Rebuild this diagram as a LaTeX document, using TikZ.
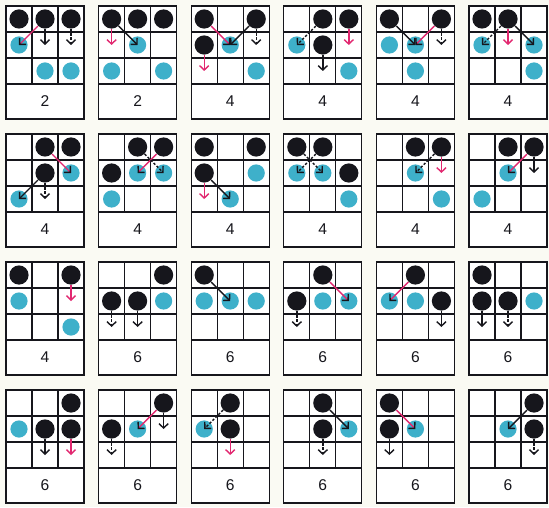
\documentclass[tikz,border=0pt]{standalone}
\usepackage{fontspec}
\setmainfont{Liberation Sans}
\usepackage{tikz}
\usetikzlibrary{arrows.meta}
\definecolor{ink}{RGB}{22,22,28}
\definecolor{ballcyan}{RGB}{62,176,202}
\definecolor{mag}{RGB}{226,40,112}
\definecolor{paper}{RGB}{250,250,243}
\tikzset{
  frame/.style={line width=0.6pt, draw=ink},
  kb/.style={circle, fill=ink, minimum size=9.6pt, inner sep=0pt},
  cb/.style={circle, fill=ballcyan, minimum size=8.6pt, inner sep=0pt},
  lab/.style={font=\fontsize{7.8}{9}\selectfont, text=ink},
  bka/.style={line width=0.7pt, draw=ink, -{Straight Barb[length=2.2pt,width=4.6pt]}},
  bkd/.style={bka, dash pattern=on 1.2pt off 0.9pt},
  mva/.style={line width=0.7pt, draw=mag, -{Straight Barb[length=2.2pt,width=4.6pt]}},
  mvd/.style={line width=0.7pt, draw=mag, -{Straight Barb[length=2.2pt,width=4.6pt,ink]}}
}
\begin{document}
\begin{tikzpicture}[x=0.5pt, y=-0.5pt]
\fill[paper] (0,0) rectangle (549,507);
\useasboundingbox (0,0) rectangle (549,507);
% panels: 3x3 board with the number below
\foreach \lab [count=\i] in {2,2,4,4,4,4, 4,4,4,4,4,4, 4,6,6,6,6,6, 6,6,6,6,6,6}{
  \pgfmathsetmacro\px{6+92.6*mod(\i-1,6)}
  \pgfmathsetmacro\py{6+128*int((\i-1)/6)}
  \begin{scope}[shift={(\px,\py)}]
    \fill[white] (0,0) rectangle (78,113);
    \draw[frame] (0,0) rectangle (78,113);
    \draw[frame] (0,26)--(78,26) (0,52)--(78,52) (0,78)--(78,78)
                 (26,0)--(26,78) (52,0)--(52,78);
    \node[lab] (p\i-lab) at (39,95.5) {\lab};
    \foreach \c in {1,2,3}{
      \foreach \r in {1,2,3}{
        \coordinate (p\i-\c\r) at (26*\c-13,26*\r-13);
      }
    }
  \end{scope}
}

% row 1
\node[kb] (p1-k11) at (p1-11) {};
\node[kb] (p1-k21) at (p1-21) {};
\node[kb] (p1-k31) at (p1-31) {};
\node[cb] (p1-c12) at (p1-12) {};
\node[cb] (p1-c23) at (p1-23) {};
\node[cb] (p1-c33) at (p1-33) {};
\draw[mvd] (p1-k21) -- (p1-c12.center);
\draw[bka] (p1-k21) -- (p1-22);
\draw[bkd] (p1-k31) -- (p1-32);

\node[kb] (p2-k11) at (p2-11) {};
\node[kb] (p2-k21) at (p2-21) {};
\node[kb] (p2-k31) at (p2-31) {};
\node[cb] (p2-c22) at (p2-22) {};
\node[cb] (p2-c13) at (p2-13) {};
\node[cb] (p2-c33) at (p2-33) {};
\draw[mva] (p2-k11) -- (p2-12);
\draw[bka] (p2-k11) -- (p2-c22.center);

\node[kb] (p3-k11) at (p3-11) {};
\node[kb] (p3-k31) at (p3-31) {};
\node[kb] (p3-k12) at (p3-12) {};
\node[cb] (p3-c22) at (p3-22) {};
\node[cb] (p3-c33) at (p3-33) {};
\draw[mvd] (p3-k11) -- (p3-c22.center);
\draw[bka] (p3-k31) -- (p3-c22.center);
\draw[bkd] (p3-k31) -- (p3-32);
\draw[mva] (p3-k12) -- (p3-13);

\node[kb] (p4-k21) at (p4-21) {};
\node[kb] (p4-k31) at (p4-31) {};
\node[kb] (p4-k22) at (p4-22) {};
\node[cb] (p4-c12) at (p4-12) {};
\node[cb] (p4-c33) at (p4-33) {};
\draw[bkd] (p4-k21) -- (p4-c12.center);
\draw[mva] (p4-k31) -- (p4-32);
\draw[bka] (p4-k22) -- (p4-23);

\node[kb] (p5-k11) at (p5-11) {};
\node[kb] (p5-k31) at (p5-31) {};
\node[cb] (p5-c12) at (p5-12) {};
\node[cb] (p5-c22) at (p5-22) {};
\node[cb] (p5-c23) at (p5-23) {};
\draw[bka] (p5-k11) -- (p5-c22.center);
\draw[mvd] (p5-k31) -- (p5-c22.center);
\draw[bkd] (p5-k31) -- (p5-32);

\node[kb] (p6-k11) at (p6-11) {};
\node[kb] (p6-k21) at (p6-21) {};
\node[cb] (p6-c12) at (p6-12) {};
\node[cb] (p6-c32) at (p6-32) {};
\node[cb] (p6-c33) at (p6-33) {};
\draw[bkd] (p6-k21) -- (p6-c12.center);
\draw[mva] (p6-k21) -- (p6-22);
\draw[bka] (p6-k21) -- (p6-c32.center);

% row 2
\node[kb] (p7-k21) at (p7-21) {};
\node[kb] (p7-k31) at (p7-31) {};
\node[kb] (p7-k22) at (p7-22) {};
\node[cb] (p7-c32) at (p7-32) {};
\node[cb] (p7-c13) at (p7-13) {};
\draw[mvd] (p7-k21) -- (p7-c32.center);
\draw[bka] (p7-k22) -- (p7-c13.center);
\draw[bkd] (p7-k22) -- (p7-23);

\node[kb] (p8-k21) at (p8-21) {};
\node[kb] (p8-k31) at (p8-31) {};
\node[kb] (p8-k12) at (p8-12) {};
\node[cb] (p8-c22) at (p8-22) {};
\node[cb] (p8-c32) at (p8-32) {};
\node[cb] (p8-c13) at (p8-13) {};
\draw[mvd] (p8-k31) -- (p8-c22.center);
\draw[bkd] (p8-k21) -- (p8-c32.center);

\node[kb] (p9-k11) at (p9-11) {};
\node[kb] (p9-k31) at (p9-31) {};
\node[kb] (p9-k12) at (p9-12) {};
\node[cb] (p9-c32) at (p9-32) {};
\node[cb] (p9-c23) at (p9-23) {};
\draw[mva] (p9-k12) -- (p9-13);
\draw[bka] (p9-k12) -- (p9-c23.center);

\node[kb] (p10-k11) at (p10-11) {};
\node[kb] (p10-k21) at (p10-21) {};
\node[kb] (p10-k32) at (p10-32) {};
\node[cb] (p10-c12) at (p10-12) {};
\node[cb] (p10-c22) at (p10-22) {};
\node[cb] (p10-c33) at (p10-33) {};
\draw[bkd] (p10-k21) -- (p10-c12.center);
\draw[bkd] (p10-k11) -- (p10-c22.center);

\node[kb] (p11-k21) at (p11-21) {};
\node[kb] (p11-k31) at (p11-31) {};
\node[cb] (p11-c22) at (p11-22) {};
\node[cb] (p11-c33) at (p11-33) {};
\draw[bkd] (p11-k31) -- (p11-c22.center);
\draw[mva] (p11-k31) -- (p11-32);

\node[kb] (p12-k21) at (p12-21) {};
\node[kb] (p12-k31) at (p12-31) {};
\node[cb] (p12-c22) at (p12-22) {};
\node[cb] (p12-c13) at (p12-13) {};
\draw[mvd] (p12-k31) -- (p12-c22.center);
\draw[bka] (p12-k31) -- (p12-32);

% row 3
\node[kb] (p13-k11) at (p13-11) {};
\node[kb] (p13-k31) at (p13-31) {};
\node[cb] (p13-c12) at (p13-12) {};
\node[cb] (p13-c33) at (p13-33) {};
\draw[mva] (p13-k31) -- (p13-32);

\node[kb] (p14-k31) at (p14-31) {};
\node[kb] (p14-k12) at (p14-12) {};
\node[kb] (p14-k22) at (p14-22) {};
\node[cb] (p14-c32) at (p14-32) {};
\draw[bkd] (p14-k12) -- (p14-13);
\draw[bka] (p14-k22) -- (p14-23);

\node[kb] (p15-k11) at (p15-11) {};
\node[cb] (p15-c12) at (p15-12) {};
\node[cb] (p15-c22) at (p15-22) {};
\node[cb] (p15-c32) at (p15-32) {};
\draw[bka] (p15-k11) -- (p15-c22.center);

\node[kb] (p16-k21) at (p16-21) {};
\node[kb] (p16-k12) at (p16-12) {};
\node[cb] (p16-c22) at (p16-22) {};
\node[cb] (p16-c32) at (p16-32) {};
\draw[mvd] (p16-k21) -- (p16-c32.center);
\draw[bkd] (p16-k12) -- (p16-13);

\node[kb] (p17-k21) at (p17-21) {};
\node[kb] (p17-k32) at (p17-32) {};
\node[cb] (p17-c12) at (p17-12) {};
\node[cb] (p17-c22) at (p17-22) {};
\draw[mvd] (p17-k21) -- (p17-c12.center);
\draw[bka] (p17-k32) -- (p17-33);

\node[kb] (p18-k11) at (p18-11) {};
\node[kb] (p18-k12) at (p18-12) {};
\node[kb] (p18-k22) at (p18-22) {};
\node[cb] (p18-c32) at (p18-32) {};
\draw[bka] (p18-k12) -- (p18-13);
\draw[bkd] (p18-k22) -- (p18-23);

% row 4
\node[kb] (p19-k31) at (p19-31) {};
\node[kb] (p19-k22) at (p19-22) {};
\node[kb] (p19-k32) at (p19-32) {};
\node[cb] (p19-c12) at (p19-12) {};
\draw[bka] (p19-k22) -- (p19-23);
\draw[mva] (p19-k32) -- (p19-33);

\node[kb] (p20-k31) at (p20-31) {};
\node[kb] (p20-k12) at (p20-12) {};
\node[cb] (p20-c22) at (p20-22) {};
\draw[mvd] (p20-k31) -- (p20-c22.center);
\draw[bka] (p20-k31) -- (p20-32);
\draw[bkd] (p20-k12) -- (p20-13);

\node[kb] (p21-k21) at (p21-21) {};
\node[kb] (p21-k22) at (p21-22) {};
\node[cb] (p21-c12) at (p21-12) {};
\draw[bkd] (p21-k21) -- (p21-c12.center);
\draw[mva] (p21-k22) -- (p21-23);

\node[kb] (p22-k21) at (p22-21) {};
\node[kb] (p22-k22) at (p22-22) {};
\node[cb] (p22-c32) at (p22-32) {};
\draw[bka] (p22-k21) -- (p22-c32.center);
\draw[bkd] (p22-k22) -- (p22-23);

\node[kb] (p23-k11) at (p23-11) {};
\node[kb] (p23-k12) at (p23-12) {};
\node[cb] (p23-c22) at (p23-22) {};
\draw[mvd] (p23-k11) -- (p23-c22.center);
\draw[bka] (p23-k12) -- (p23-13);

\node[kb] (p24-k31) at (p24-31) {};
\node[kb] (p24-k32) at (p24-32) {};
\node[cb] (p24-c22) at (p24-22) {};
\draw[bka] (p24-k31) -- (p24-c22.center);
\draw[bkd] (p24-k32) -- (p24-33);
\end{tikzpicture}
\end{document}
